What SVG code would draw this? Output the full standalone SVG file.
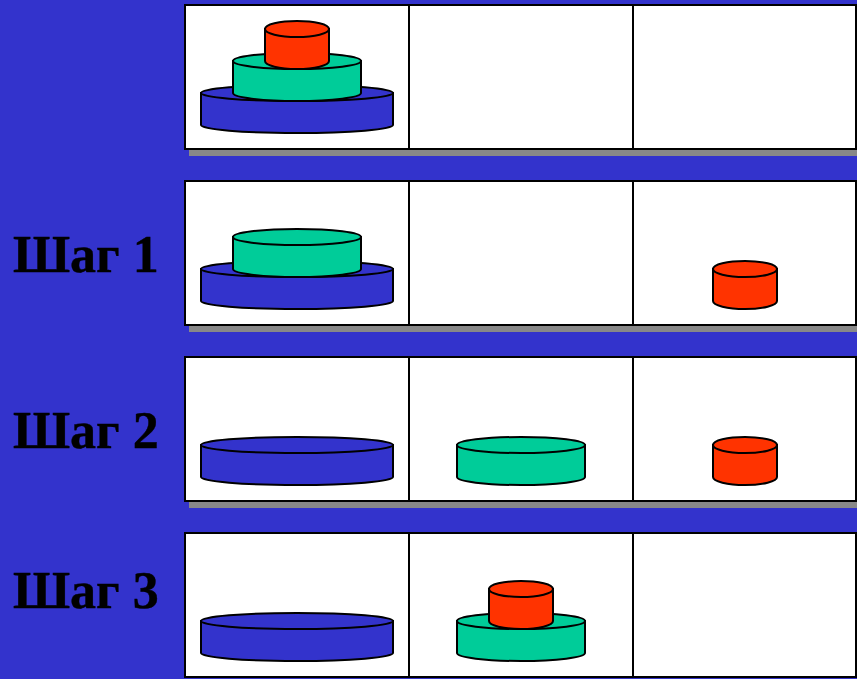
<svg xmlns="http://www.w3.org/2000/svg" width="857" height="679" viewBox="0 0 857 679">
  <style>
    .board { fill: #fff; stroke: #000; stroke-width: 2; }
    .peg { fill: none; stroke: #000; stroke-width: 2; }
    .shadow { fill: #888; }
    .disk { stroke: #000; stroke-width: 2; }
    .big { fill: #3333cc; }
    .mid { fill: #00cc99; }
    .small { fill: #ff3300; }
    .step { font-family: "Liberation Serif", "Times New Roman", serif; font-weight: bold; font-size: 52px; fill: #000; stroke: #000; stroke-width: 0.4; }
  </style>
  <defs>
    <!-- Cylinders are drawn with their axis at x=0 and the top ellipse centred on y=0 -->
    <g id="disk-big" class="disk big">
      <path d="M-96 0V32A96 8 0 0 0 96 32V0Z"/>
      <ellipse cx="0" cy="0" rx="96" ry="8"/>
    </g>
    <g id="disk-mid" class="disk mid">
      <path d="M-64 0V32A64 8 0 0 0 64 32V0Z"/>
      <ellipse cx="0" cy="0" rx="64" ry="8"/>
    </g>
    <g id="disk-small" class="disk small">
      <path d="M-32 0V32A32 8 0 0 0 32 32V0Z"/>
      <ellipse cx="0" cy="0" rx="32" ry="8"/>
    </g>
    <g id="board">
      <rect class="shadow" x="189" y="149" width="668" height="7"/>
      <rect class="board" x="185" y="5" width="671" height="144"/>
      <path class="peg" d="M409 5V149M633 5V149"/>
    </g>
  </defs>

  <rect id="background" width="857" height="679" fill="#3333cc"/>

  <g id="start">
    <use href="#board"/>
    <use href="#disk-big" x="297" y="93"/>
    <use href="#disk-mid" x="297" y="61"/>
    <use href="#disk-small" x="297" y="29"/>
  </g>

  <g id="step-1">
    <use href="#board" y="176"/>
    <use href="#disk-big" x="297" y="269"/>
    <use href="#disk-mid" x="297" y="237"/>
    <use href="#disk-small" x="745" y="269"/>
    <text class="step" x="13" y="272">Шаг 1</text>
  </g>

  <g id="step-2">
    <use href="#board" y="352"/>
    <use href="#disk-big" x="297" y="445"/>
    <use href="#disk-mid" x="521" y="445"/>
    <use href="#disk-small" x="745" y="445"/>
    <text class="step" x="13" y="448">Шаг 2</text>
  </g>

  <g id="step-3">
    <rect class="board" x="185" y="533" width="671" height="144"/>
    <path class="peg" d="M409 533V677M633 533V677"/>
    <use href="#disk-big" x="297" y="621"/>
    <use href="#disk-mid" x="521" y="621"/>
    <use href="#disk-small" x="521" y="589"/>
    <text class="step" x="13" y="608">Шаг 3</text>
  </g>
</svg>
